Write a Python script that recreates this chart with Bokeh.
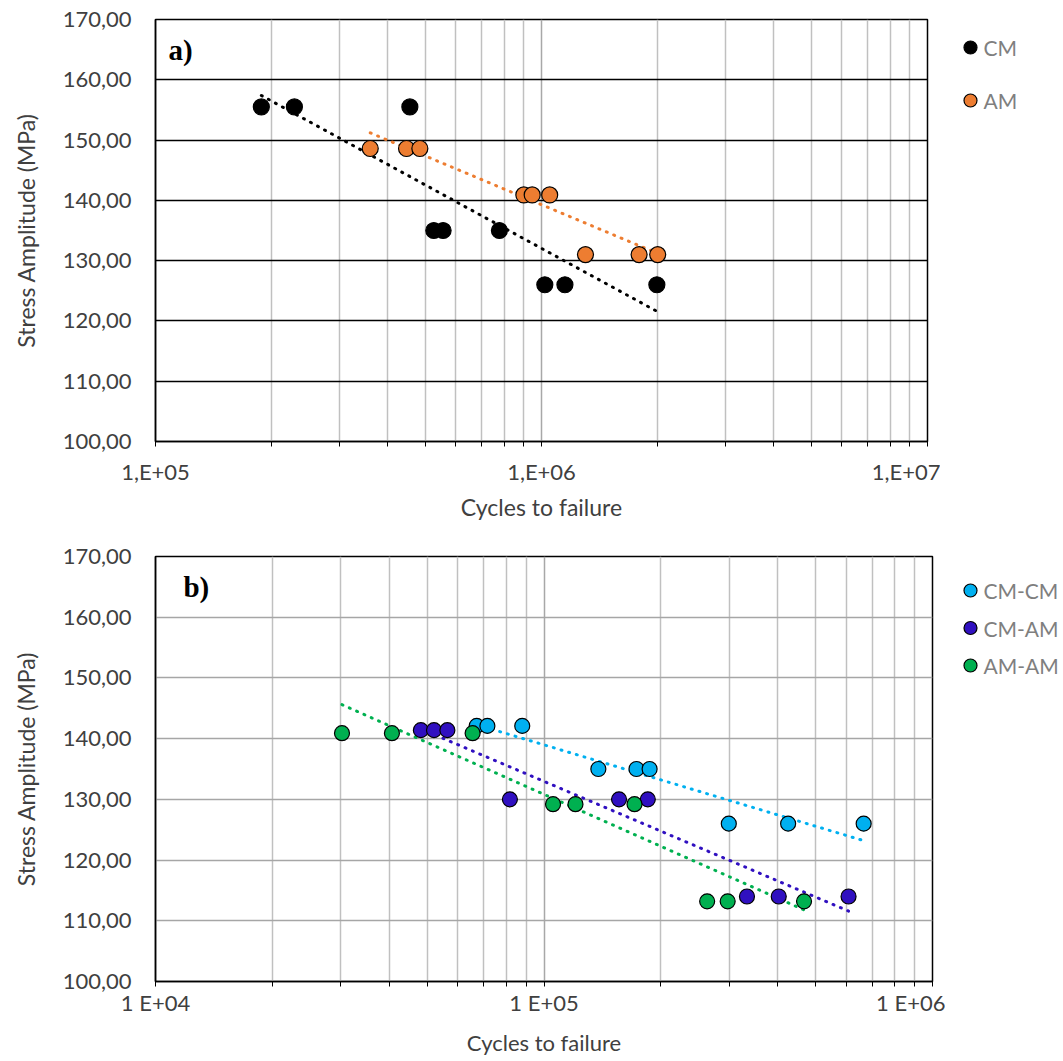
from bokeh.plotting import figure
from bokeh.models import Range1d, FixedTicker, Label
from bokeh.core.properties import value
from bokeh.layouts import column, row
from bokeh.embed import file_html
from bokeh.resources import INLINE

# ---------------- data: panel a) ----------------
cm_x = [1.88e5, 2.29e5, 4.56e5, 5.26e5, 5.56e5, 7.78e5, 1.02e6, 1.15e6, 1.99e6]
cm_y = [155.5, 155.5, 155.5, 135.0, 135.0, 135.0, 126.0, 126.0, 126.0]
am_x = [3.60e5, 4.47e5, 4.84e5, 9.00e5, 9.46e5, 1.05e6, 1.30e6, 1.79e6, 2.00e6]
am_y = [148.6, 148.6, 148.6, 140.9, 140.9, 140.9, 131.0, 131.0, 131.0]
# trendline end points
cm_trend_x = [1.88e5, 1.99e6]
cm_trend_y = [157.4, 121.6]
am_trend_x = [3.60e5, 2.00e6]
am_trend_y = [151.2, 131.2]

# ---------------- data: panel b) ----------------
cmcm_x = [6.71e4, 7.15e4, 8.79e4, 1.38e5, 1.73e5, 1.87e5, 2.99e5, 4.25e5, 6.65e5]
cmcm_y = [142.1, 142.1, 142.1, 135.0, 135.0, 135.0, 126.0, 126.0, 126.0]
cmam_x = [4.82e4, 5.21e4, 5.64e4, 8.17e4, 1.56e5, 1.85e5, 3.33e5, 4.02e5, 6.08e5]
cmam_y = [141.4, 141.4, 141.4, 130.0, 130.0, 130.0, 114.0, 114.0, 114.0]
amam_x = [3.02e4, 4.06e4, 6.55e4, 1.055e5, 1.205e5, 1.71e5, 2.63e5, 2.97e5, 4.67e5]
amam_y = [140.9, 140.9, 140.9, 129.2, 129.2, 129.2, 113.2, 113.2, 113.2]
cmcm_trend_x = [6.71e4, 6.65e5]
cmcm_trend_y = [142.3, 123.2]
cmam_trend_x = [4.82e4, 6.08e5]
cmam_trend_y = [141.6, 111.6]
amam_trend_x = [3.02e4, 4.67e5]
amam_trend_y = [145.6, 111.8]

y_ticks = [100, 110, 120, 130, 140, 150, 160, 170]
y_labels = {t: f"{t},00" for t in y_ticks}
top_major = [1e5, 1e6, 1e7]
top_labels = {100000: "1,E+05", 1000000: "1,E+06", 10000000: "1,E+07"}
bot_major = [1e4, 1e5, 1e6]
bot_labels = {10000: "1 E+04", 100000: "1 E+05", 1000000: "1 E+06"}

top_series = ["CM", "AM"]
bot_series = ["CM-CM", "CM-AM", "AM-AM"]

FONT = "Lato"
LBL_COLOR = "#404040"
C_CM, C_AM = "#000000", "#ED7D31"
C_CMCM, C_CMAM, C_AMAM = "#00B0F0", "#3010C0", "#00B050"


def minor_of(majors):
    out = []
    for m in majors[:-1]:
        out += [m * k for k in range(2, 10)]
    return out


def make_fig(width, height, x0, x1, majors, labels, mb_top, mb_bottom,
             hgrid_color, tick_standoff, xlabel_standoff, xlabel_size):
    p = figure(width=width, height=height, x_axis_type="log",
               x_range=Range1d(x0, x1), y_range=Range1d(100, 170),
               output_backend="svg", toolbar_location=None,
               min_border_left=155, min_border_right=13,
               min_border_top=mb_top, min_border_bottom=mb_bottom)
    p.outline_line_color = "black"
    p.outline_line_width = 1.5
    tk = FixedTicker(ticks=majors, minor_ticks=minor_of(majors))
    p.xaxis.ticker = tk
    p.xgrid.ticker = tk
    p.xaxis.major_label_overrides = labels
    p.xaxis.major_tick_out = 5
    p.xaxis.major_tick_in = 0
    p.xaxis.minor_tick_out = 5
    p.xaxis.minor_tick_in = 0
    p.xaxis.major_tick_line_color = "black"
    p.xaxis.minor_tick_line_color = "black"
    p.xaxis.axis_line_color = "black"
    p.xaxis.axis_line_width = 1.5
    p.xaxis.major_label_standoff = tick_standoff
    p.xaxis.axis_label = "Cycles to failure"
    p.xaxis.axis_label_standoff = xlabel_standoff
    p.xgrid.grid_line_color = "#a8a8a8"
    p.xgrid.grid_line_width = 1.5
    p.xgrid.minor_grid_line_color = "#c0c0c0"
    p.xgrid.minor_grid_line_width = 1.5

    yt = FixedTicker(ticks=y_ticks, minor_ticks=[])
    p.yaxis.ticker = yt
    p.ygrid.ticker = yt
    p.yaxis.major_label_overrides = y_labels
    p.yaxis.major_tick_out = 0
    p.yaxis.major_tick_in = 0
    p.yaxis.minor_tick_out = 0
    p.yaxis.minor_tick_in = 0
    p.yaxis.axis_line_color = "black"
    p.yaxis.axis_line_width = 1.5
    p.yaxis.major_label_standoff = 24
    p.yaxis.axis_label = "Stress Amplitude (MPa)"
    p.yaxis.axis_label_standoff = 20
    p.ygrid.grid_line_color = hgrid_color
    p.ygrid.grid_line_width = 1.3 if hgrid_color == "#000000" else 1.5

    for ax in (p.xaxis, p.yaxis):
        ax.major_label_text_font = FONT
        ax.major_label_text_font_size = "22px"
        ax.major_label_text_color = LBL_COLOR
        ax.axis_label_text_font = FONT
        ax.axis_label_text_font_style = "normal"
        ax.axis_label_text_color = LBL_COLOR
    p.xaxis.axis_label_text_font_size = xlabel_size
    p.yaxis.axis_label_text_font_size = "23px"
    return p


def make_legend_fig(width, height, names, colors, marker_x, first_y, step):
    """Narrow figure to the right of the plot; coordinates are pixels from its frame's top-left."""
    lf = figure(frame_width=width, frame_height=height,
                x_range=Range1d(0, width), y_range=Range1d(height, 0),
                output_backend="svg", toolbar_location=None,
                x_axis_location=None, y_axis_location=None,
                min_border_left=0, min_border_right=0, min_border_top=0, min_border_bottom=0)
    lf.outline_line_color = None
    lf.xgrid.visible = False
    lf.ygrid.visible = False
    ys = [first_y + i * step for i in range(len(names))]
    lf.scatter([marker_x] * len(names), ys, size=13, fill_color=colors,
               line_color="black", line_width=1.2)
    lf.text([marker_x + 13] * len(names), ys, text=names,
            text_font=value(FONT), text_font_size="21px", text_color="#7f7f7f",
            text_baseline="middle", text_align="left")
    return lf


# ---------------- panel a ----------------
p1 = make_fig(940, 530, 1e5, 1e7, top_major, top_labels, 19, 89, "#000000", 11, 5, "23px")
p1.line(cm_trend_x, cm_trend_y, line_color=C_CM, line_width=3,
        line_dash="1 7", line_cap="round")
p1.line(am_trend_x, am_trend_y, line_color=C_AM, line_width=3,
        line_dash="1 7", line_cap="round")
p1.scatter(cm_x, cm_y, size=16, fill_color=C_CM, line_color="black", line_width=1.2)
p1.scatter(am_x, am_y, size=16, fill_color=C_AM, line_color="black", line_width=1.2)
p1.add_layout(Label(x=1.081e5, y=165.0, text="a)", text_font="Liberation Serif",
                    text_font_style="bold", text_font_size="29px",
                    text_baseline="middle", text_color="black"))
lg1 = make_legend_fig(123, 422, top_series, [C_CM, C_AM], 30, 28, 53)

# ---------------- panel b ----------------
p2 = make_fig(945, 531, 1e4, 1e6, bot_major, bot_labels, 26, 80, "#a6a6a6", 2, 10, "22px")
p2.line(cmcm_trend_x, cmcm_trend_y, line_color=C_CMCM, line_width=3,
        line_dash="1 7", line_cap="round")
p2.line(cmam_trend_x, cmam_trend_y, line_color=C_CMAM, line_width=3,
        line_dash="1 7", line_cap="round")
p2.line(amam_trend_x, amam_trend_y, line_color=C_AMAM, line_width=3,
        line_dash="1 7", line_cap="round")
p2.scatter(cmcm_x, cmcm_y, size=15, fill_color=C_CMCM, line_color="black", line_width=1.2)
p2.scatter(cmam_x, cmam_y, size=15, fill_color=C_CMAM, line_color="black", line_width=1.2)
p2.scatter(amam_x, amam_y, size=15, fill_color=C_AMAM, line_color="black", line_width=1.2)
p2.add_layout(Label(x=1.18e4, y=165.0, text="b)", text_font="Liberation Serif",
                    text_font_style="bold", text_font_size="29px",
                    text_baseline="middle", text_color="black"))
lg2 = make_legend_fig(118, 425, bot_series, [C_CMCM, C_CMAM, C_AMAM], 25, 34, 37.5)

layout = column(row(p1, lg1, spacing=0), row(p2, lg2, spacing=0), spacing=0)
open("out.html", "w").write(file_html(layout, INLINE))
